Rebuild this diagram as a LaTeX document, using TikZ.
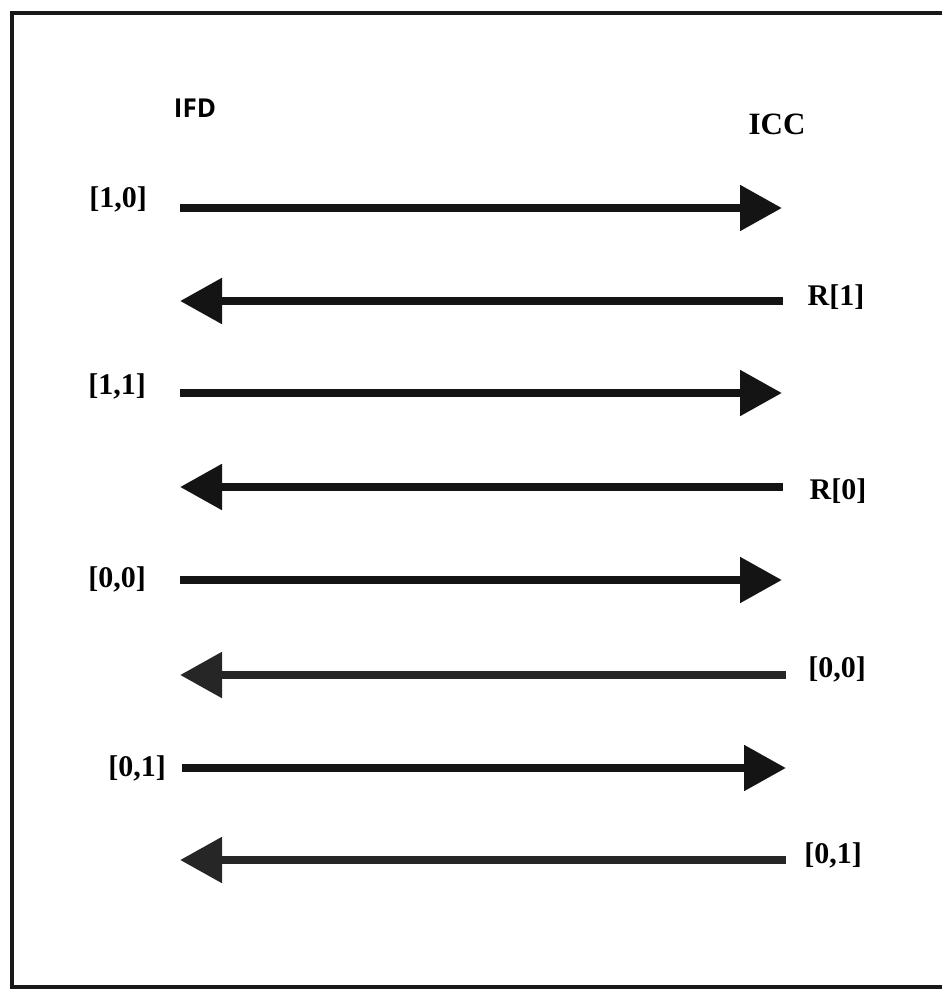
\documentclass[tikz,border=0pt]{standalone}
\usepackage{fontspec}
\setmainfont{Liberation Serif}
\newfontfamily\headsans{Open Sans}
\usetikzlibrary{arrows.meta}
\begin{document}
\begin{tikzpicture}[x=1pt,y=-1pt,
  msg/.style={line width=8.5pt, draw=black!92,
    -{Triangle[length=42pt,width=44pt]}},
  faintmsg/.style={msg, draw=black!85},
  lbl/.style={font=\fontsize{30}{34}\selectfont\bfseries, inner sep=0pt},
  party/.style={inner sep=0pt}]
\useasboundingbox (0,0) rectangle (942,990);
\fill[white] (0,0) rectangle (942,990);
% open frame, running off the right edge
\draw[line width=3.5pt, black!90] (942,13) -- (12,13) -- (12,987) -- (942,987);

% parties
\node[party, font=\headsans\fontsize{26}{30}\selectfont\bfseries] (ifd) at (195,108) {IFD};
\node[party, font=\fontsize{31}{34}\selectfont\bfseries] (icc) at (777,124) {ICC};

% row end points
\coordinate (a1) at (180,208); \coordinate (b1) at (782,208);
\coordinate (a2) at (180,301); \coordinate (b2) at (783,301);
\coordinate (a3) at (180,393); \coordinate (b3) at (782,393);
\coordinate (a4) at (180,487); \coordinate (b4) at (783,487);
\coordinate (a5) at (180,580); \coordinate (b5) at (782,580);
\coordinate (a6) at (180,675); \coordinate (b6) at (786,675);
\coordinate (a7) at (182,768); \coordinate (b7) at (786,768);
\coordinate (a8) at (180,860); \coordinate (b8) at (786,860);

% labels
\node[lbl] (t1) at (118,199) {[1,0]};
\node[lbl] (t2) at (836,297) {R[1]};
\node[lbl] (t3) at (117,386) {[1,1]};
\node[lbl] (t4) at (838,491) {R[0]};
\node[lbl] (t5) at (117,579) {[0,0]};
\node[lbl] (t6) at (837,669) {[0,0]};
\node[lbl] (t7) at (137,768) {[0,1]};
\node[lbl] (t8) at (833,855) {[0,1]};

% message exchange
\draw[msg] (a1) -- (b1);
\draw[msg] (b2) -- (a2);
\draw[msg] (a3) -- (b3);
\draw[msg] (b4) -- (a4);
\draw[msg] (a5) -- (b5);
\draw[faintmsg] (b6) -- (a6);
\draw[msg] (a7) -- (b7);
\draw[faintmsg] (b8) -- (a8);
\end{tikzpicture}
\end{document}
